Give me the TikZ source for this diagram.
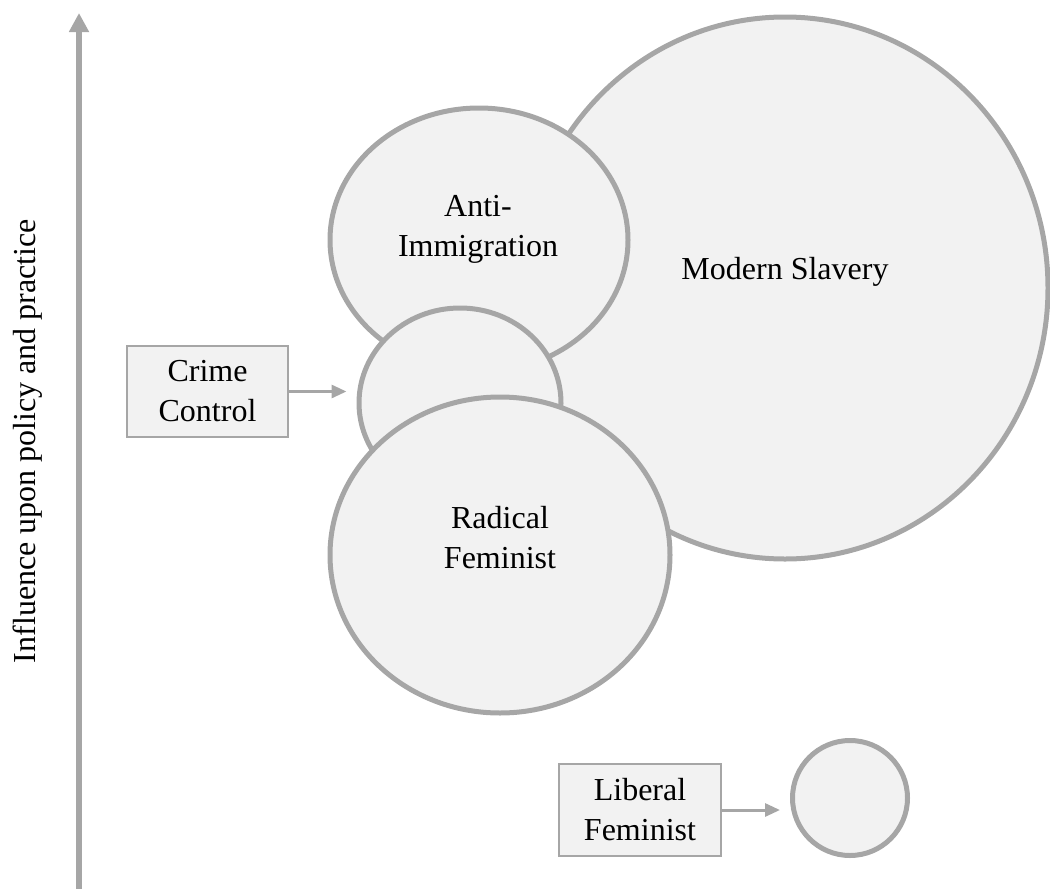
\documentclass[tikz,border=0pt]{standalone}
\usepackage{fontspec}
\setmainfont{Liberation Serif}
\usetikzlibrary{shapes.geometric,arrows.meta}
\definecolor{edgegray}{HTML}{A6A6A6}
\definecolor{fillgray}{HTML}{F2F2F2}
\begin{document}
\begin{tikzpicture}[x=1pt,y=-1pt,
  blob/.style={ellipse,draw=edgegray,fill=fillgray,line width=5pt,inner sep=0pt},
  lbl/.style={font=\fontsize{32}{40}\selectfont,align=center,text=black,inner sep=0pt},
  box/.style={draw=edgegray,fill=fillgray,line width=2pt,inner sep=0pt,
    font=\fontsize{32}{40}\selectfont,align=center,text=black},
  conn/.style={draw=edgegray,line width=3pt,-{Triangle[length=15pt,width=13pt]}}]
\useasboundingbox (0,0) rectangle (1050,889);
\clip (0,0) rectangle (1050,889);
% axis
\coordinate (axb) at (79,889);
\coordinate (axt) at (79,13);
\draw[draw=edgegray,line width=6pt,-{Triangle[length=19pt,width=19pt]}] (axb) -- (axt);
\node[lbl,rotate=90] (axlbl) at (28,441) {Influence upon policy and practice};
% circles
\node[blob,minimum width=526pt,minimum height=542pt] (ms) at (785,288) {};
\node[blob,minimum width=298pt,minimum height=264pt] (ai) at (479,240) {};
\node[blob,minimum width=202pt,minimum height=190pt] (cc) at (460,403) {};
\node[blob,minimum width=340pt,minimum height=316pt] (rf) at (500,555) {};
\node[blob,minimum width=115pt,minimum height=115pt] (lf) at (850,798) {};
% labels
\node[lbl] (mslbl) at (785,272) {Modern Slavery};
\node[lbl] (ailbl) at (478,229) {Anti-\\Immigration};
\node[lbl] (rflbl) at (500,538) {Radical\\Feminist};
% boxes
\node[box,minimum width=161pt,minimum height=91pt] (ccbox) at (207.5,391.5) {Crime\\Control};
\node[box,minimum width=162pt,minimum height=92pt] (lfbox) at (640,810) {Liberal\\Feminist};
% connectors
\draw[conn,shorten >=10pt] (ccbox.east) -- (ccbox.east -| cc.west);
\draw[conn,shorten >=10pt] (lfbox.east) -- (lfbox.east -| lf.west);
\end{tikzpicture}
\end{document}
